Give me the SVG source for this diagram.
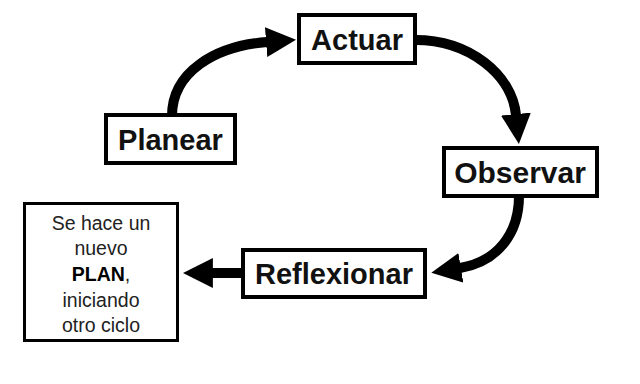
<svg xmlns="http://www.w3.org/2000/svg" width="640" height="384" viewBox="0 0 640 384">
<style>
.box{fill:#fff;stroke:#000;stroke-width:4}
.lbl{font-family:"Liberation Sans",Arial,sans-serif;font-weight:bold;font-size:29px;fill:#111;text-anchor:middle}
.note{font-family:"Liberation Sans",Arial,sans-serif;font-size:19.5px;fill:#222;text-anchor:middle}
.arr{fill:none;stroke:#000;stroke-width:10}
</style>
<defs>
<marker id="ah" viewBox="0 0 10 10" refX="0.3" refY="5" markerWidth="3" markerHeight="3" orient="auto" markerUnits="strokeWidth">
<path d="M0,0 L10,5 L0,10 z" fill="#000"/>
</marker>
</defs>
<rect width="640" height="384" fill="#fff"/>
<g id="connectors">
<path class="arr" d="M172,116 C172,72 215,46 267,42" marker-end="url(#ah)"/>
<path class="arr" d="M415,40 C470,40 512,75 516,115" marker-end="url(#ah)"/>
<path class="arr" d="M519,196 C519,235 496,262 460,268" marker-end="url(#ah)"/>
<path class="arr" d="M243,273 L212,273" marker-end="url(#ah)"/>
</g>
<g id="planear">
<rect class="box" x="106" y="115" width="129" height="48"/>
<text class="lbl" x="170.5" y="150">Planear</text>
</g>
<g id="actuar">
<rect class="box" x="299" y="15" width="116" height="48"/>
<text class="lbl" x="357" y="50">Actuar</text>
</g>
<g id="observar">
<rect class="box" x="444" y="148" width="153" height="48"/>
<text class="lbl" x="520" y="183" style="font-size:30px">Observar</text>
</g>
<g id="reflexionar">
<rect class="box" x="243" y="250" width="182" height="47"/>
<text class="lbl" x="334" y="284">Reflexionar</text>
</g>
<g id="nuevo-plan">
<rect x="24.5" y="203.5" width="153" height="137" fill="#fff" stroke="#000" stroke-width="3"/>
<text class="note" x="101" y="230">Se hace un</text>
<text class="note" x="101" y="255">nuevo</text>
<text class="note" x="101" y="281"><tspan font-weight="bold" fill="#000">PLAN</tspan>,</text>
<text class="note" x="101" y="307">iniciando</text>
<text class="note" x="101" y="332">otro ciclo</text>
</g>
</svg>
